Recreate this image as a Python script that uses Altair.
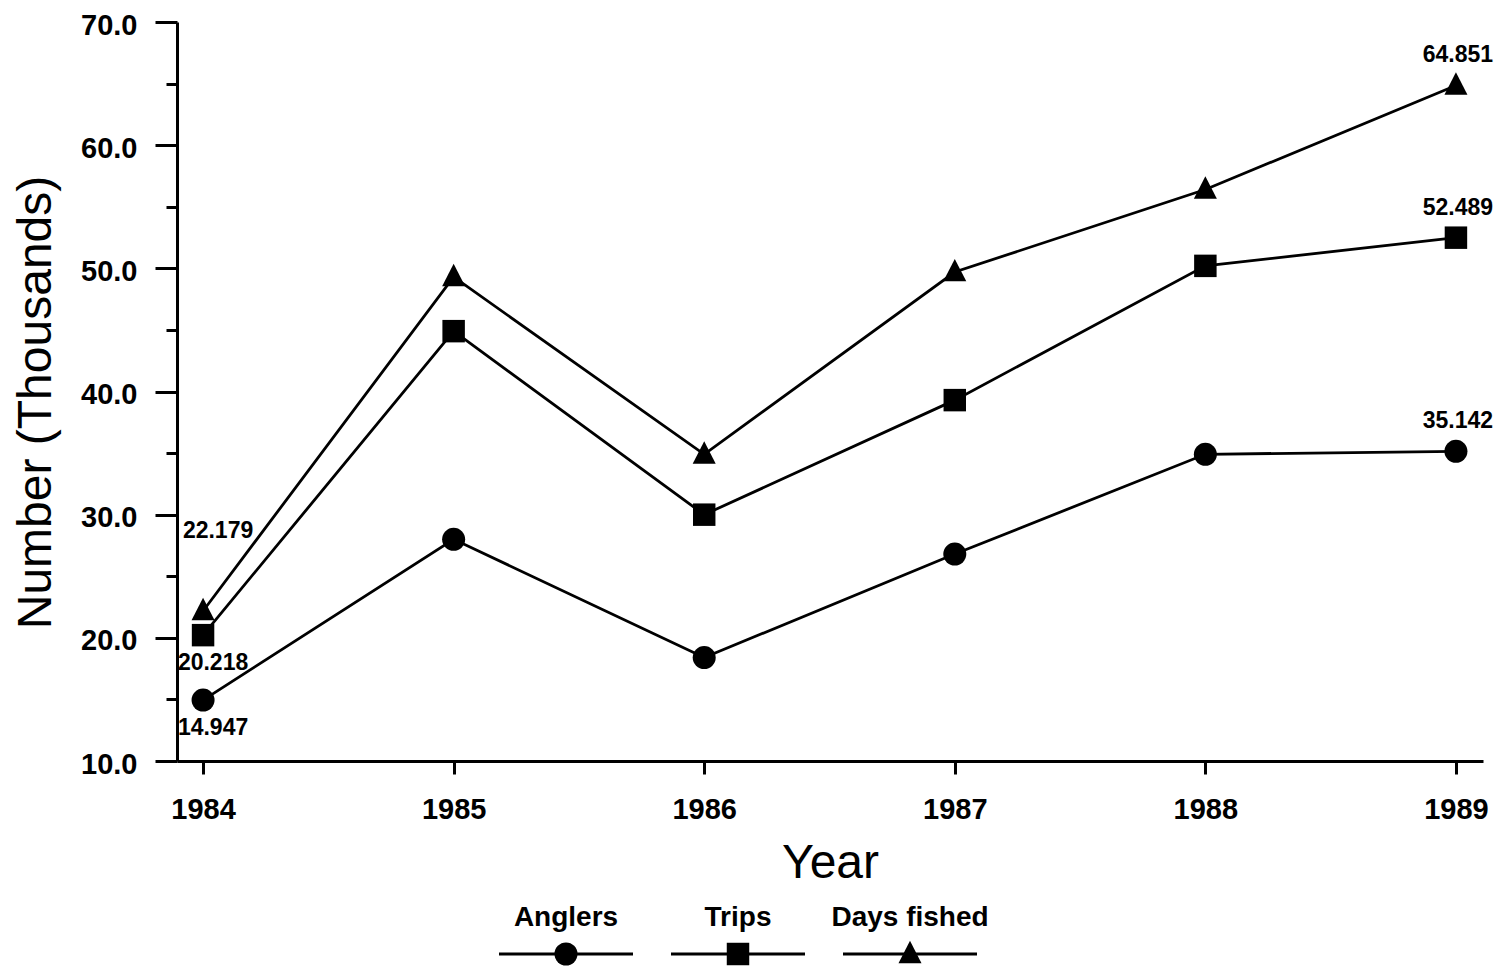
import altair as alt
import pandas as pd

# ---- data ----
years = [1984, 1985, 1986, 1987, 1988, 1989]
series_names = ["Anglers", "Trips", "Days fished"]
anglers = [14.947, 28.0, 18.4, 26.8, 34.9, 35.142]
trips = [20.218, 44.9, 30.0, 39.3, 50.2, 52.489]
days_fished = [22.179, 49.3, 34.9, 49.7, 56.4, 64.851]

y_major_ticks = [10, 20, 30, 40, 50, 60, 70]
y_minor_ticks = [15, 25, 35, 45, 55, 65]

# which points carry a value label, grouped by label placement
labels_above = [("Anglers", 1989), ("Trips", 1989), ("Days fished", 1989)]
labels_below = [("Anglers", 1984), ("Trips", 1984)]
labels_upper = [("Days fished", 1984)]

# ---- tables ----
rows = []
for name, vals in zip(series_names, [anglers, trips, days_fished]):
    for yr, v in zip(years, vals):
        rows.append({"series": name, "year": yr, "value": v})
df = pd.DataFrame(rows)


def subset(pairs):
    keys = set(pairs)
    return df[[(s, y) in keys for s, y in zip(df["series"], df["year"])]]


legend_df = pd.DataFrame({"series": series_names})

FONT = "Liberation Sans"
TRI = "M0,-1.2L-1.05,0.85L1.05,0.85Z"

x_scale = alt.Scale(domain=[1983.896, 1989.108], nice=False, zero=False)
y_scale = alt.Scale(domain=[10, 70], nice=False, zero=False)
shape_scale = alt.Scale(domain=series_names, range=["circle", "square", TRI])
size_scale = alt.Scale(domain=series_names, range=[530, 480, 640])

x_axis = alt.Axis(
    values=years, format="d", title="Year", grid=False,
    tickSize=13, tickWidth=3, domainWidth=3,
    labelFont=FONT, labelFontSize=29, labelFontWeight="bold", labelPadding=21,
    labelFlush=False, labelOverlap=False, labelColor="black",
    titleFont=FONT, titleFontSize=48, titleFontWeight="normal", titlePadding=15,
    titleColor="black",
)
y_axis_major = alt.Axis(
    values=y_major_ticks, format=".1f", title="Number (Thousands)", grid=False,
    tickSize=22, tickWidth=3, domainWidth=3, orient="left",
    labelFont=FONT, labelFontSize=29, labelFontWeight="bold", labelPadding=18,
    labelOffset=3,
    labelFlush=False, labelOverlap=False, labelColor="black",
    titleFont=FONT, titleFontSize=48, titleFontWeight="normal", titlePadding=20,
    titleY=380, titleColor="black",
)
y_axis_minor = alt.Axis(
    values=y_minor_ticks, labels=False, domain=False, grid=False, title=None,
    tickSize=11, tickWidth=3, orient="left",
)

X = alt.X("year:Q", scale=x_scale, axis=x_axis)

lines = alt.Chart(df).mark_line(color="black", strokeWidth=2.8).encode(
    x=X,
    y=alt.Y("value:Q", scale=y_scale, axis=y_axis_major),
    detail="series:N",
    order="year:Q",
)

points = alt.Chart(df).mark_point(filled=True, opacity=1, color="black", strokeWidth=0).encode(
    x=X,
    y=alt.Y("value:Q", scale=y_scale, axis=y_axis_minor),
    shape=alt.Shape("series:N", scale=shape_scale, legend=None),
    size=alt.Size("series:N", scale=size_scale, legend=None),
)


def value_labels(data, dx, dy):
    return alt.Chart(data).mark_text(
        font=FONT, fontSize=23, fontWeight="bold", color="black", dx=dx, dy=dy
    ).encode(
        x=X,
        y=alt.Y("value:Q", scale=y_scale, axis=None),
        text=alt.Text("value:Q", format=".3f"),
    )


txt_above = value_labels(subset(labels_above), 2, -30)
txt_below = value_labels(subset(labels_below), 10, 28)
txt_upper = value_labels(subset(labels_upper), 15, -80)

main = alt.layer(lines, points, txt_above, txt_below, txt_upper).resolve_axis(y="independent")

# ---- legend below the plot: label above a line-with-marker sample ----
LX = alt.X(
    "series:N",
    sort=series_names,
    scale=alt.Scale(type="point", domain=series_names, range=[389, 733], padding=0),
    axis=None,
)
leg_rule = alt.Chart(legend_df).mark_rule(
    color="black", strokeWidth=2.8, xOffset=-67, x2Offset=67
).encode(x=LX, x2="series:N", y=alt.value(932))
leg_pts = alt.Chart(legend_df).mark_point(filled=True, opacity=1, color="black", strokeWidth=0).encode(
    x=LX,
    y=alt.value(932),
    shape=alt.Shape("series:N", scale=shape_scale, legend=None),
    size=alt.Size("series:N", scale=size_scale, legend=None),
)
leg_txt = alt.Chart(legend_df).mark_text(
    font=FONT, fontSize=28, fontWeight="bold", color="black"
).encode(x=LX, y=alt.value(896), text="series:N")
legend = alt.layer(leg_rule, leg_pts, leg_txt)

chart = (
    alt.layer(main, legend)
    .resolve_scale(x="independent")
    .properties(
        width=1306,
        height=739,
        autosize=alt.AutoSizeParams(type="none"),
        padding={"left": 169, "top": 14, "right": 16, "bottom": 205},
        background="white",
    )
    .configure_view(stroke=None)
    .configure_axis(domainColor="black", tickColor="black")
)

chart.save("out.html", embed_options={"renderer": "svg", "actions": False})
